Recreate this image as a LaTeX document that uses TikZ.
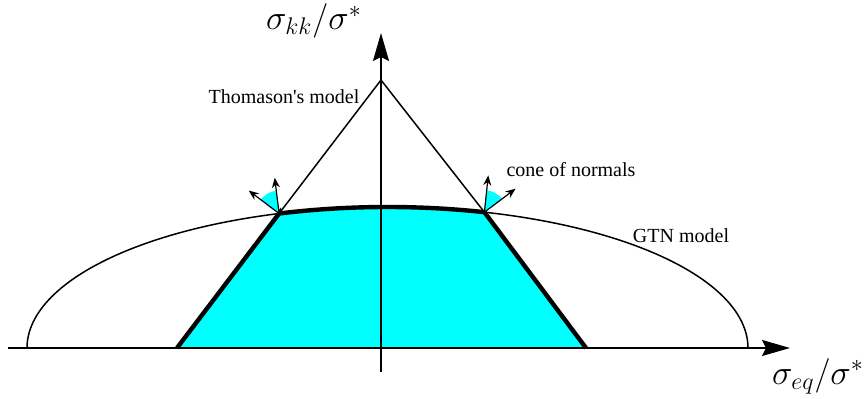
\documentclass[tikz,border=0pt]{standalone}
\usepackage{fontspec}
\newfontfamily\modelfont{Liberation Serif}
\usetikzlibrary{arrows.meta}
\definecolor{yldCyan}{HTML}{00FFFF}
\tikzset{
  yldThin/.style={
    draw=black,
    line width=0.75pt
  },
  yldThick/.style={
    draw=black,
    line width=2.2pt
  },
  yldFill/.style={
    fill=yldCyan
  },
  axisArrow/.style={
    -{Stealth[length=14pt,width=8pt,inset=2pt]},
    line width=0.9pt
  },
  normalArrow/.style={
    -{Stealth[length=5pt,width=4pt]},
    line width=0.6pt
  },
  axisLabel/.style={
    inner sep=0pt,
    font=\LARGE
  },
  modelLabel/.style={
    inner sep=0pt,
    font=\modelfont
  }
}

\begin{document}
\begin{tikzpicture}[x=0.5pt,y=-0.5pt]
  \useasboundingbox (0,0) rectangle (867,399);

  % axes and key points
  \coordinate (xstart) at (8,348);
  \coordinate (xend) at (790,348);
  \coordinate (ystart) at (381,372);
  \coordinate (yend) at (381,33);
  \coordinate (apex) at (381,80);
  \coordinate (lbase) at (177,348);
  \coordinate (rbase) at (586,348);
  \coordinate (lcorner) at (279.1,213.5);
  \coordinate (rcorner) at (484.4,212.2);

  % admissible region
  \fill[yldFill] (lbase) -- (lcorner)
    -- plot[domain=107.5:74.4, samples=30] ({387.5+360.5*cos(\x)},{348-141*sin(\x)})
    -- (rbase) -- cycle;

  % GTN surface
  \draw[yldThin] plot[domain=0:180, samples=120] ({387.5+360.5*cos(\x)},{348-141*sin(\x)});
  % Thomason
  \draw[yldThin] (lcorner) -- (apex) -- (rcorner);

  \draw[axisArrow] (xstart) -- (xend);
  \draw[axisArrow] (ystart) -- (yend);

  \draw[yldThick] (lbase) -- (lcorner)
    -- plot[domain=107.5:74.4, samples=30] ({387.5+360.5*cos(\x)},{348-141*sin(\x)})
    -- (rbase);

  % cones of normals
  \fill[yldFill] (lcorner) -- ++(97:11.5pt) arc[start angle=97, end angle=143, radius=11.5pt] -- cycle;
  \fill[yldFill] (rcorner) -- ++(37:11pt) arc[start angle=37, end angle=84, radius=11pt] -- cycle;
  \draw[normalArrow] (lcorner) -- ++(97:18pt);
  \draw[normalArrow] (lcorner) -- ++(143:19pt);
  \draw[normalArrow] (rcorner) -- ++(84:18.5pt);
  \draw[normalArrow] (rcorner) -- ++(37:19.5pt);

  \node[axisLabel] (kkLabel) at (314,21) {$\sigma_{kk}/\sigma^*$};
  \node[axisLabel] (eqLabel) at (818,376) {$\sigma_{eq}/\sigma^*$};
  \node[modelLabel] (thomLabel) at (284,97) {Thomason's model};
  \node[modelLabel] (coneLabel) at (571,170) {cone of normals};
  \node[modelLabel] (gtnLabel) at (681,236) {GTN model};
\end{tikzpicture}
\end{document}
